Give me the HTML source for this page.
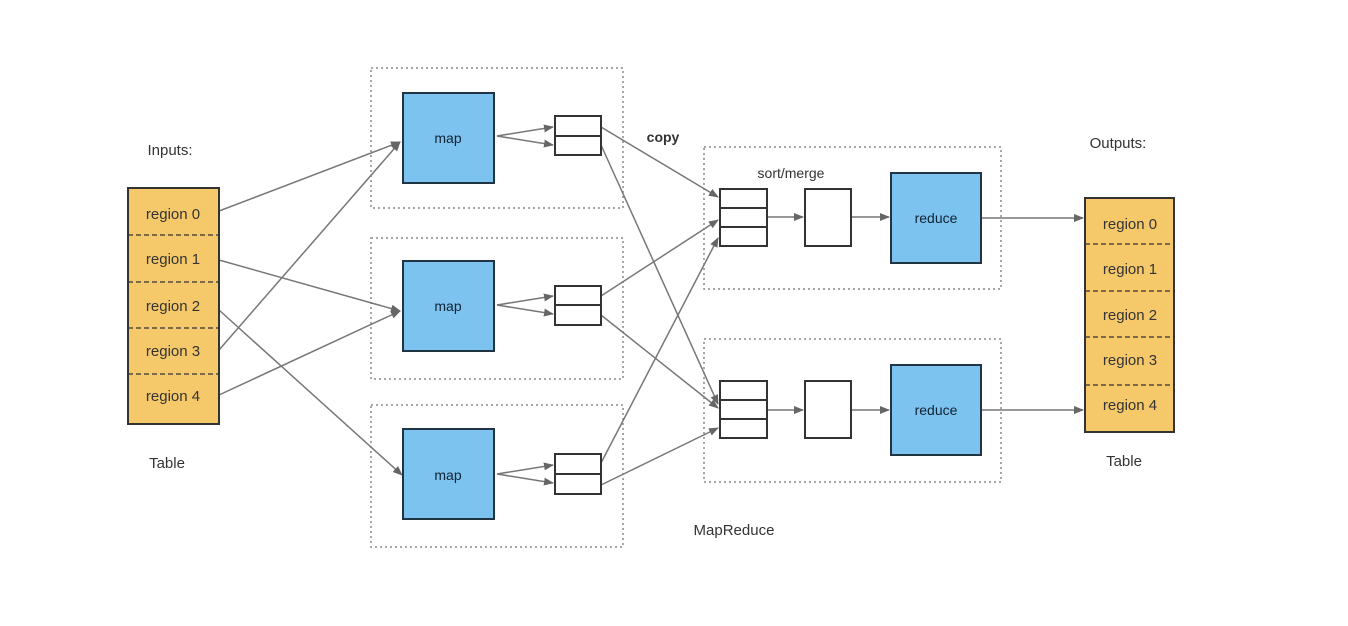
<!DOCTYPE html>
<html><head><style>body{margin:0;background:#fff}svg{display:block}text{font-family:"Liberation Sans",sans-serif}</style></head><body>
<svg width="1348" height="626" viewBox="0 0 1348 626">
<defs><marker id="a" markerWidth="10" markerHeight="8" refX="9" refY="4" orient="auto" markerUnits="userSpaceOnUse"><path d="M0,0L10,4L0,8z" fill="#666"/></marker></defs>
<g fill="none" stroke="#888" stroke-width="1.5" stroke-dasharray="2,3">
<rect x="371" y="68" width="252" height="140"/><rect x="371" y="238" width="252" height="141"/><rect x="371" y="405" width="252" height="142"/>
<rect x="704" y="147" width="297" height="142"/><rect x="704" y="339" width="297" height="143"/>
</g>
<g stroke="#777" stroke-width="1.5" fill="none" marker-end="url(#a)">
<line x1="219" y1="211" x2="400" y2="142"/><line x1="219" y1="350" x2="400" y2="142"/>
<line x1="219" y1="260" x2="400" y2="311"/><line x1="219" y1="395" x2="400" y2="311"/>
<line x1="219" y1="310" x2="402" y2="475"/>
<line x1="497" y1="136" x2="553" y2="127"/><line x1="497" y1="136" x2="553" y2="145"/>
<line x1="497" y1="305" x2="553" y2="296"/><line x1="497" y1="305" x2="553" y2="314"/>
<line x1="497" y1="474" x2="553" y2="465"/><line x1="497" y1="474" x2="553" y2="483"/>
<line x1="601" y1="127" x2="718" y2="197"/><line x1="601" y1="145" x2="718" y2="404"/>
<line x1="601" y1="296" x2="718" y2="220"/><line x1="601" y1="315" x2="718" y2="408"/>
<line x1="601" y1="463" x2="718" y2="238"/><line x1="601" y1="485" x2="718" y2="428"/>
<line x1="767" y1="217" x2="803" y2="217"/><line x1="851" y1="217" x2="889" y2="217"/>
<line x1="767" y1="410" x2="803" y2="410"/><line x1="851" y1="410" x2="889" y2="410"/>
<line x1="981" y1="218" x2="1083" y2="218"/><line x1="981" y1="410" x2="1083" y2="410"/>
</g>
<g fill="#f5c96a" stroke="#333" stroke-width="2">
<rect x="128" y="188" width="91" height="236"/><rect x="1085" y="198" width="89" height="234"/>
</g>
<g stroke="#333" stroke-width="1.2" stroke-dasharray="5,3">
<line x1="128" y1="235" x2="219" y2="235"/><line x1="128" y1="282" x2="219" y2="282"/><line x1="128" y1="328" x2="219" y2="328"/><line x1="128" y1="374" x2="219" y2="374"/>
<line x1="1085" y1="244" x2="1174" y2="244"/><line x1="1085" y1="291" x2="1174" y2="291"/><line x1="1085" y1="337" x2="1174" y2="337"/><line x1="1085" y1="385" x2="1174" y2="385"/>
</g>
<g fill="#7cc3f0" stroke="#234" stroke-width="2">
<rect x="403" y="93" width="91" height="90"/><rect x="403" y="261" width="91" height="90"/><rect x="403" y="429" width="91" height="90"/>
<rect x="891" y="173" width="90" height="90"/><rect x="891" y="365" width="90" height="90"/>
</g>
<g fill="#fff" stroke="#333" stroke-width="2">
<rect x="555" y="116" width="46" height="39"/><rect x="555" y="286" width="46" height="39"/><rect x="555" y="454" width="46" height="40"/>
<rect x="720" y="189" width="47" height="57"/><rect x="720" y="381" width="47" height="57"/>
<rect x="805" y="189" width="46" height="57"/><rect x="805" y="381" width="46" height="57"/>
</g>
<g stroke="#333" stroke-width="2">
<line x1="555" y1="136" x2="601" y2="136"/><line x1="555" y1="305" x2="601" y2="305"/><line x1="555" y1="474" x2="601" y2="474"/>
<line x1="720" y1="208" x2="767" y2="208"/><line x1="720" y1="227" x2="767" y2="227"/>
<line x1="720" y1="400" x2="767" y2="400"/><line x1="720" y1="419" x2="767" y2="419"/>
</g>
<g font-size="15" fill="#333" text-anchor="middle">
<text x="173" y="219">region 0</text><text x="173" y="264">region 1</text><text x="173" y="311">region 2</text><text x="173" y="356">region 3</text><text x="173" y="401">region 4</text>
<text x="1130" y="229">region 0</text><text x="1130" y="274">region 1</text><text x="1130" y="320">region 2</text><text x="1130" y="365">region 3</text><text x="1130" y="410">region 4</text>
<text x="170" y="155">Inputs:</text><text x="167" y="468">Table</text><text x="1118" y="148">Outputs:</text><text x="1124" y="466">Table</text>
<text x="734" y="535">MapReduce</text>
</g>
<g font-size="14" fill="#123" text-anchor="middle">
<text x="448" y="143">map</text><text x="448" y="311">map</text><text x="448" y="480">map</text>
<text x="936" y="223">reduce</text><text x="936" y="415">reduce</text>
</g>
<text x="663" y="142" font-size="14" font-weight="bold" fill="#333" text-anchor="middle">copy</text>
<text x="791" y="178" font-size="14" fill="#333" text-anchor="middle">sort/merge</text>
</svg>
</body></html>
